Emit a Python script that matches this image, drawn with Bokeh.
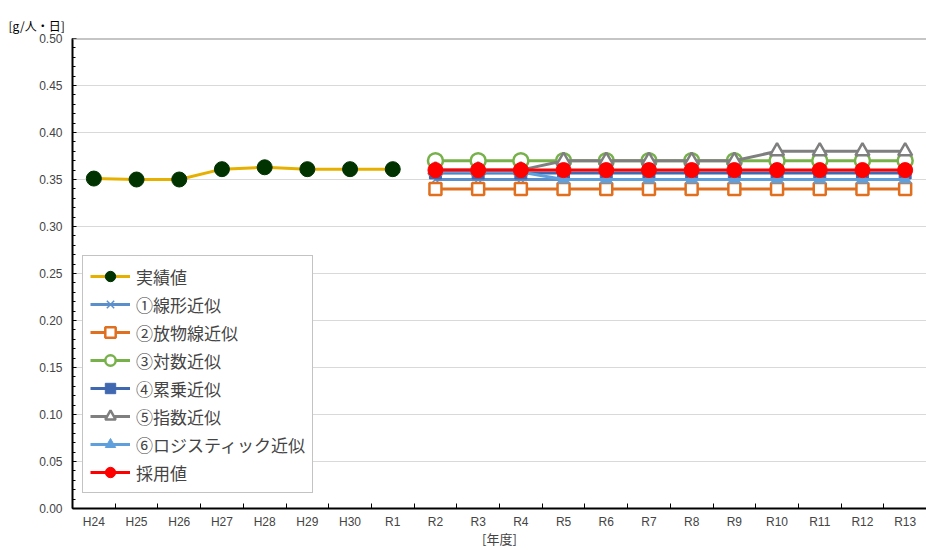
from bokeh.plotting import figure
from bokeh.models import (FixedTicker, Legend, LegendItem, Span, NumeralTickFormatter, Range1d, Title)
from bokeh.embed import file_html
from bokeh.resources import INLINE

categories = ["H24", "H25", "H26", "H27", "H28", "H29", "H30", "R1",
              "R2", "R3", "R4", "R5", "R6", "R7", "R8", "R9", "R10", "R11", "R12", "R13"]
actual = [0.351, 0.350, 0.350, 0.361, 0.363, 0.361, 0.361, 0.361]
linear = [0.35, 0.35, 0.35, 0.35, 0.35, 0.35, 0.35, 0.35, 0.35, 0.35, 0.35, 0.35]
parabola = [0.34, 0.34, 0.34, 0.34, 0.34, 0.34, 0.34, 0.34, 0.34, 0.34, 0.34, 0.34]
logarithmic = [0.37, 0.37, 0.37, 0.37, 0.37, 0.37, 0.37, 0.37, 0.37, 0.37, 0.37, 0.37]
power = [0.357, 0.357, 0.357, 0.357, 0.357, 0.357, 0.357, 0.357, 0.357, 0.357, 0.357, 0.357]
exponential = [0.36, 0.36, 0.36, 0.37, 0.37, 0.37, 0.37, 0.37, 0.38, 0.38, 0.38, 0.38]
logistic = [0.358, 0.358, 0.358, 0.35, 0.35, 0.35, 0.35, 0.35, 0.35, 0.35, 0.35, 0.35]
adopted = [0.36, 0.36, 0.36, 0.36, 0.36, 0.36, 0.36, 0.36, 0.36, 0.36, 0.36, 0.36]

FONT = "Noto Sans CJK JP"
NUMFONT = "Liberation Sans"
n = len(categories)
xi_act = list(range(len(actual)))
xi_fc = list(range(len(actual), n))

p = figure(width=926, height=550, output_backend="svg", toolbar_location=None,
           x_range=Range1d(-0.5, n - 0.5), y_range=Range1d(0, 0.5),
           min_border_left=72, min_border_right=0, min_border_top=38, min_border_bottom=42)
p.title = Title(text="[g/人・日]", text_font=FONT, text_font_size="12px", text_font_style="normal",
                align="left", offset=-64, text_color="#000000")
p.outline_line_color = None
p.background_fill_color = "white"
p.border_fill_color = "white"

# axes
p.xaxis.ticker = FixedTicker(ticks=list(range(n)), minor_ticks=[i + 0.5 for i in range(-1, n)])
p.xaxis.major_label_overrides = {i: c for i, c in enumerate(categories)}
p.xaxis.major_tick_in = 0
p.xaxis.major_tick_out = 0
p.xaxis.minor_tick_in = 5
p.xaxis.minor_tick_out = 0
p.xaxis.minor_tick_line_color = "black"
p.xaxis.axis_line_width = 2
p.xaxis.axis_line_color = "black"
p.xaxis.major_label_text_font = NUMFONT
p.xaxis.major_label_text_font_size = "12px"
p.xaxis.major_label_standoff = 6
p.xaxis.axis_label = "[年度]"
p.xaxis.axis_label_text_font = FONT
p.xaxis.axis_label_text_font_size = "13px"
p.xaxis.axis_label_text_font_style = "normal"
p.xaxis.axis_label_standoff = -3

p.yaxis.ticker = FixedTicker(ticks=[i * 0.05 for i in range(11)], minor_ticks=[i * 0.01 for i in range(51)])
p.yaxis.formatter = NumeralTickFormatter(format="0.00")
p.yaxis.major_tick_in = 4
p.yaxis.major_tick_out = 0
p.yaxis.minor_tick_in = 3
p.yaxis.minor_tick_out = 0
p.yaxis.axis_line_width = 2
p.yaxis.axis_line_color = "black"
p.yaxis.major_label_text_font = NUMFONT
p.yaxis.major_label_text_font_size = "12px"
p.yaxis.major_label_standoff = 10

p.xgrid.grid_line_color = None
p.ygrid.grid_line_color = "#D9D9D9"
p.ygrid.grid_line_width = 1
p.add_layout(Span(location=0.5, dimension="width", line_color="#8C8C8C", line_width=2))

items = []

def add_series(label, xs, ys, color, marker, size, fill, mlw=2, mline=None):
    r1 = p.line(xs, ys, line_color=color, line_width=3)
    r2 = p.scatter(xs, ys, marker=marker, size=size, fill_color=fill,
                   line_color=mline or color, line_width=mlw)
    items.append(LegendItem(label=label, renderers=[r1, r2]))

add_series("実績値", xi_act, actual, "#E6B000", "circle", 15, "#003300", 1, "#003300")
add_series("①線形近似", xi_fc, linear, "#5B8FCB", "x", 10, "#5B8FCB", 1.5)
add_series("②放物線近似", xi_fc, parabola, "#E07020", "square", 12, "white", 2.5)
add_series("③対数近似", xi_fc, logarithmic, "#77B14A", "circle", 15, "white", 2.5)
add_series("④累乗近似", xi_fc, power, "#4068B0", "square", 12, "#4068B0", 1)
add_series("⑤指数近似", xi_fc, exponential, "#7F7F7F", "triangle", 14, "white", 2.5)
add_series("⑥ロジスティック近似", xi_fc, logistic, "#5FA0DC", "triangle", 12, "#5FA0DC", 1)
add_series("採用値", xi_fc, adopted, "#FF0000", "circle", 15, "#FF0000", 1)

legend = Legend(items=items, location=(10, 15), label_text_font=FONT, label_text_font_size="17px",
                glyph_width=40, glyph_height=26, label_height=26, label_standoff=6,
                spacing=2, padding=7, border_line_color="#888888", border_line_width=1.5,
                background_fill_color="white", background_fill_alpha=1.0)
p.add_layout(legend)

open("out.html", "w").write(file_html(p, INLINE))
